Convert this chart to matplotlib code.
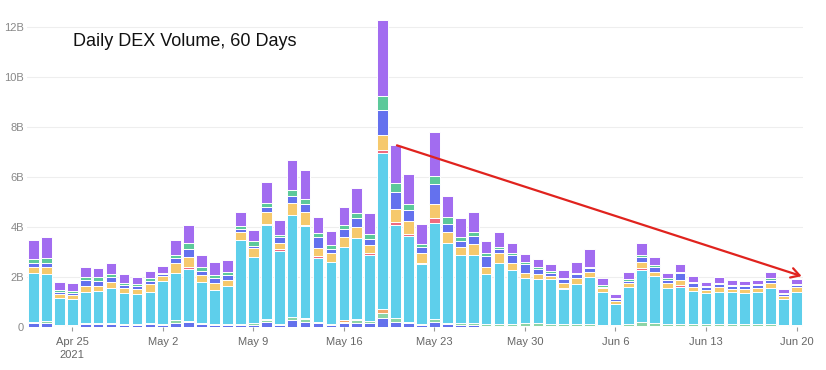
import matplotlib
matplotlib.use("Agg")
import matplotlib.pyplot as plt
import numpy as np
import pandas as pd

dates = pd.date_range("2021-04-22", "2021-06-20", freq="D")

bottom_blue = [0.15,0.18,0.06,0.06,0.12,0.12,0.13,0.10,0.10,0.12,
               0.10,0.15,0.20,0.12,0.08,0.08,0.10,0.10,0.20,0.10,
               0.30,0.20,0.15,0.10,0.15,0.18,0.15,0.35,0.20,0.15,
               0.10,0.20,0.12,0.10,0.08,0.05,0.06,0.05,0.05,0.05,
               0.05,0.05,0.05,0.05,0.04,0.04,0.04,0.05,0.05,0.04,
               0.04,0.04,0.04,0.04,0.04,0.04,0.04,0.04,0.04,0.04]
bottom_green = [0.06,0.06,0.02,0.02,0.03,0.05,0.04,0.03,0.03,0.03,
                0.03,0.12,0.05,0.04,0.03,0.03,0.04,0.05,0.08,0.04,
                0.09,0.12,0.05,0.04,0.07,0.10,0.08,0.20,0.15,0.07,
                0.04,0.12,0.05,0.06,0.08,0.06,0.08,0.06,0.10,0.10,
                0.08,0.06,0.06,0.06,0.06,0.06,0.10,0.17,0.10,0.08,
                0.08,0.07,0.07,0.07,0.07,0.07,0.07,0.07,0.06,0.06]
bottom_orange = [0,0,0,0,0,0,0,0,0,0,
                 0,0,0,0,0,0,0,0,0.05,0,
                 0,0.06,0,0,0.05,0.06,0,0.17,0,0,
                 0,0,0,0,0,0,0,0,0,0,
                 0,0,0,0,0,0,0,0,0,0,
                 0,0,0,0,0,0,0,0,0,0]
cyan = [1.94,1.88,1.07,1.03,1.26,1.27,1.38,1.24,1.19,1.25,
        1.71,1.88,2.06,1.65,1.37,1.54,3.34,2.64,3.74,2.91,
        4.09,3.65,2.55,2.46,2.92,3.21,2.65,6.25,3.73,3.42,
        2.37,3.85,3.18,2.72,2.72,2.01,2.43,2.17,1.82,1.78,
        1.78,1.40,1.61,1.88,1.31,0.82,1.45,2.06,1.90,1.45,
        1.49,1.33,1.24,1.30,1.28,1.26,1.30,1.46,1.02,1.29]
pink = [0,0,0,0,0,0,0,0,0,0,
        0,0,0.10,0,0,0,0,0,0.05,0.06,
        0,0.05,0.09,0,0,0,0.07,0.11,0.13,0.07,
        0.04,0.20,0,0,0,0,0,0,0,0,
        0,0.06,0,0,0,0,0,0.07,0,0,
        0.07,0,0,0,0,0,0,0,0,0]
yellow = [0.25,0.29,0.17,0.16,0.23,0.20,0.26,0.18,0.21,0.31,
          0.20,0.40,0.38,0.27,0.27,0.23,0.32,0.36,0.49,0.26,
          0.47,0.52,0.33,0.35,0.42,0.44,0.33,0.60,0.51,0.53,
          0.40,0.54,0.44,0.33,0.43,0.29,0.38,0.29,0.18,0.19,
          0.14,0.18,0.23,0.22,0.14,0.12,0.16,0.24,0.16,0.18,
          0.20,0.17,0.13,0.20,0.14,0.16,0.15,0.20,0.13,0.22]
blue = [0.18,0.16,0.08,0.08,0.24,0.21,0.20,0.13,0.11,0.14,
        0.08,0.22,0.32,0.17,0.22,0.20,0.13,0.09,0.18,0.22,
        0.29,0.31,0.42,0.16,0.31,0.36,0.23,1.00,0.67,0.44,
        0.24,0.80,0.33,0.24,0.33,0.43,0.16,0.31,0.36,0.19,
        0.12,0.16,0.17,0.14,0.06,0.07,0.10,0.20,0.20,0.13,
        0.27,0.14,0.11,0.10,0.11,0.10,0.11,0.11,0.08,0.06]
green = [0.16,0.20,0.08,0.09,0.13,0.14,0.11,0.09,0.07,0.10,
         0.05,0.10,0.24,0.16,0.11,0.13,0.11,0.21,0.18,0.09,
         0.24,0.21,0.16,0.17,0.15,0.22,0.20,0.56,0.36,0.23,
         0.12,0.33,0.27,0.16,0.17,0.11,0.10,0.09,0.09,0.10,
         0.07,0.06,0.05,0.06,0.07,0.04,0.06,0.09,0.07,0.07,
         0.06,0.06,0.05,0.06,0.04,0.05,0.05,0.07,0.04,0.05]
purple = [0.74,0.84,0.33,0.31,0.39,0.36,0.43,0.35,0.30,0.30,
          0.27,0.61,0.73,0.47,0.53,0.47,0.56,0.43,0.84,0.60,
          1.20,1.16,0.64,0.57,0.72,0.98,0.86,3.04,1.52,1.21,
          0.81,1.77,0.85,0.74,0.79,0.50,0.58,0.40,0.32,0.32,
          0.28,0.31,0.44,0.72,0.29,0.16,0.30,0.49,0.33,0.20,
          0.31,0.24,0.17,0.22,0.20,0.17,0.16,0.24,0.15,0.20]

layers = [
    (bottom_blue, "#6471EC"),
    (bottom_green, "#8CD4A6"),
    (bottom_orange, "#F2A66A"),
    (cyan, "#5ECFEB"),
    (pink, "#EE6B80"),
    (yellow, "#F6C96C"),
    (blue, "#6471EE"),
    (green, "#5CC99A"),
    (purple, "#A26CF0"),
]

tick_dates = ["2021-04-25", "2021-05-02", "2021-05-09", "2021-05-16",
              "2021-05-23", "2021-05-30", "2021-06-06", "2021-06-13", "2021-06-20"]
tick_labels = ["Apr 25\n2021", "May 2", "May 9", "May 16", "May 23",
               "May 30", "Jun 6", "Jun 13", "Jun 20"]
y_ticks = [0, 2, 4, 6, 8, 10, 12]
y_labels = ["0", "2B", "4B", "6B", "8B", "10B", "12B"]

plt.rcParams["font.family"] = ["Liberation Sans", "DejaVu Sans"]

fig = plt.figure(figsize=(8.26, 3.70), dpi=100)
ax = fig.add_axes([27/826, 43/370, 776/826, 315/370])

x = np.arange(len(dates))
base = np.zeros(len(dates))
for vals, col in layers:
    v = np.array(vals, dtype=float)
    ax.bar(x, v, bottom=base, width=0.82, color=col, edgecolor="white",
           linewidth=0.7, zorder=3)
    base += v

ax.set_xlim(-0.5, len(dates) - 0.5)
ax.set_ylim(0, 12.6)
ax.set_yticks(y_ticks)
ax.set_yticklabels(y_labels)
tick_pos = [(pd.Timestamp(d) - dates[0]).days for d in tick_dates]
ax.set_xticks(tick_pos)
ax.set_xticklabels(tick_labels, linespacing=1.35)
ax.tick_params(axis="y", length=0, pad=2, labelsize=8, colors="#888888")
ax.tick_params(axis="x", length=3, width=0.8, color="#999999", pad=4,
               labelsize=8, labelcolor="#666666")
for s in ax.spines.values():
    s.set_visible(False)
ax.grid(axis="y", color="#EEEEEE", linewidth=0.8, zorder=0)
ax.set_axisbelow(True)

fig.text(73/826, 1 - 42/370, "Daily DEX Volume, 60 Days", fontsize=13,
         color="#111111", va="center", ha="left")

ax.annotate("", xy=(59.6, 2.0), xytext=(27.9, 7.3),
            arrowprops=dict(arrowstyle="->,head_length=0.6,head_width=0.35",
                            color="#E0231E", lw=1.6), zorder=5,
            annotation_clip=False)

fig.savefig("out.png", dpi=100)
